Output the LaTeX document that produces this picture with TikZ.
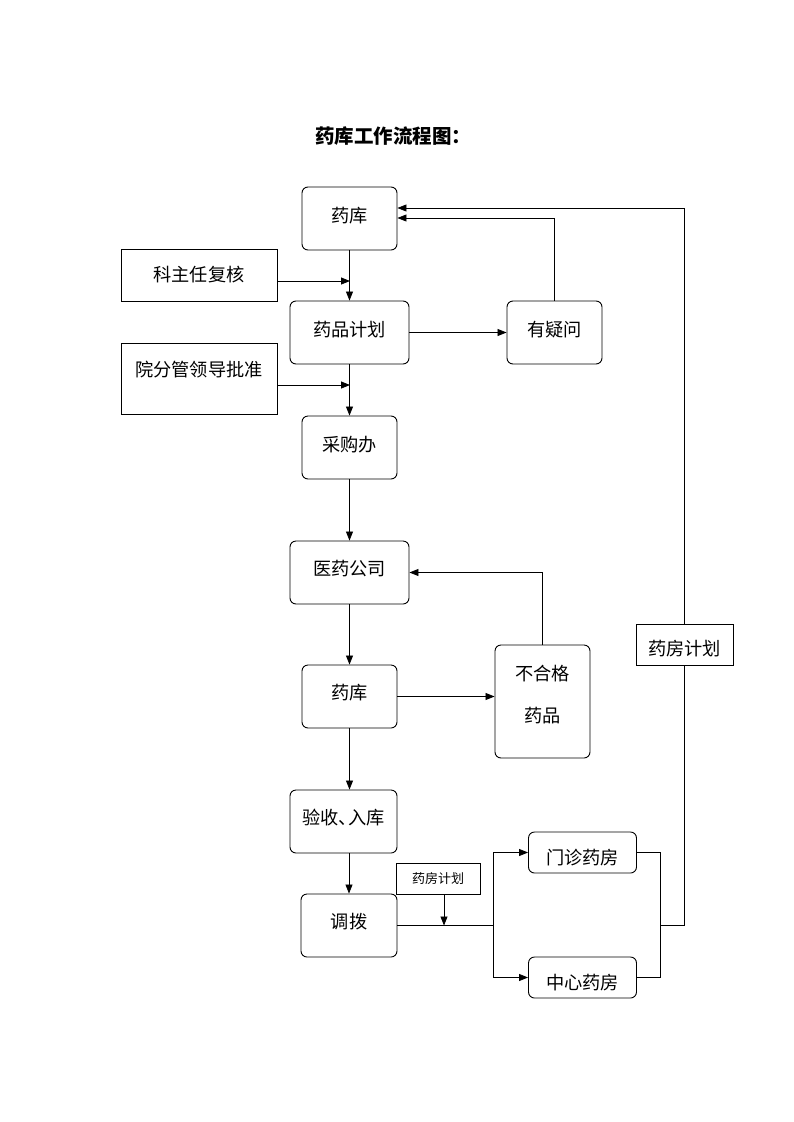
\documentclass[tikz,border=0pt]{standalone}
\usepackage{fontspec}
\newfontfamily\cjk{Noto Sans CJK SC}
\usetikzlibrary{arrows.meta}
\tikzset{
  rbox/.style={draw, line width=0.9pt, rounded corners=6pt, inner sep=0pt, font=\cjk\fontsize{18.2}{21}\selectfont},
  sbox/.style={draw, line width=0.9pt, inner sep=0pt, font=\cjk\fontsize{18.2}{21}\selectfont},
  txt/.style={inner sep=0pt, font=\cjk\fontsize{18.2}{21}\selectfont},
  conn/.style={line width=0.8pt},
  arr/.style={conn, -{Triangle[length=9pt,width=7pt]}}
}
\begin{document}
\begin{tikzpicture}[x=1pt,y=-1pt]
\useasboundingbox (0,0) rectangle (793,1122);
\node[inner sep=0pt, font=\cjk\bfseries\fontsize{19.5}{22}\selectfont] (title) at (393,136) {药库工作流程图：};

\node[rbox, minimum width=95pt, minimum height=63pt] (ku1) at (349.5,218.5) {};
\node[txt] (ku1t) at (349.5,216) {药库};
\node[sbox, minimum width=156pt, minimum height=52pt] (kzr) at (199,275) {科主任复核};
\node[rbox, minimum width=119pt, minimum height=63pt] (ypjh) at (349.5,332.5) {};
\node[txt] (ypjht) at (349.5,330) {药品计划};
\node[rbox, minimum width=95pt, minimum height=63pt] (yyw) at (554.5,332.5) {};
\node[txt] (yywt) at (554.5,330) {有疑问};
\node[sbox, minimum width=156pt, minimum height=71pt] (yfg) at (199,378.5) {};
\node[txt] (yfgt) at (199,369.5) {院分管领导批准};
\node[rbox, minimum width=95pt, minimum height=63pt] (cgb) at (349.5,447.5) {};
\node[txt] (cgbt) at (349.5,444.5) {采购办};
\node[rbox, minimum width=119pt, minimum height=63pt] (yygs) at (349.5,572.5) {};
\node[txt] (yygst) at (349.5,569) {医药公司};
\node[rbox, minimum width=95pt, minimum height=63pt] (ku2) at (349.5,696.5) {};
\node[txt] (ku2t) at (349.5,693) {药库};
\node[rbox, minimum width=95pt, minimum height=113pt] (bhg) at (542.5,701.5) {};
\node[txt] (bhg1) at (542.5,673.5) {不合格};
\node[txt] (bhg2) at (542.5,716) {药品};
\node[rbox, minimum width=107pt, minimum height=63pt] (ys) at (343.5,821.5) {};
\node[txt] (yst) at (343.5,818) {验收、\hspace{-0.45em}入库};
\node[rbox, minimum width=96pt, minimum height=63pt] (db) at (349,925.5) {};
\node[txt] (dbt) at (349,922) {调拨};
\node[sbox, minimum width=84pt, minimum height=31pt, font=\cjk\fontsize{13}{15}\selectfont] (yfs) at (438,879) {药房计划};
\node[rbox, minimum width=108pt, minimum height=41pt] (mz) at (582.5,852.5) {};
\node[txt] (mzt) at (582.5,857.5) {门诊药房};
\node[rbox, minimum width=108pt, minimum height=41pt] (zx) at (582.5,977.5) {};
\node[txt] (zxt) at (582.5,982.5) {中心药房};
\node[sbox, minimum width=97pt, minimum height=41pt] (yfr) at (684.5,644.5) {};
\node[txt] (yfrt) at (684.5,649) {药房计划};

\coordinate (j1) at (350,281);
\coordinate (j2) at (350,385);
\coordinate (sp) at (444,925.5);
\coordinate (bl) at (493,925.5);
\coordinate (br) at (660,925.5);

% main chain
\draw[arr] (ku1.south) -- (ypjh.north);
\draw[arr] (kzr.east |- j1) -- (j1);
\draw[arr] (ypjh.south) -- (cgb.north);
\draw[arr] (yfg.east |- j2) -- (j2);
\draw[arr] (cgb.south) -- (yygs.north);
\draw[arr] (yygs.south) -- (ku2.north);
\draw[arr] (ku2.south) -- (ys.north -| ku2.south);
\draw[arr] (ys.south -| db.north) -- (db.north);

% side loops
\draw[arr] (ypjh.east) -- (yyw.west);
\draw[arr] (yyw.north) -- (yyw.north |- 0,218) -- (ku1.east |- 0,218);
\draw[arr] (ku2.east) -- (bhg.west |- ku2.east);
\draw[arr] (bhg.north) -- (bhg.north |- yygs.east) -- (yygs.east);

% distribution
\draw[conn] (db.east) -- (bl);
\draw[arr] (yfs.south -| sp) -- (sp);
\draw[arr] (bl) -- (bl |- mz.west) -- (mz.west);
\draw[arr] (bl) -- (bl |- zx.west) -- (zx.west);
\draw[conn] (mz.east) -- (br |- mz.east) -- (br |- zx.east) -- (zx.east);
\draw[conn] (br) -- (yfr.south |- br) -- (yfr.south);
\draw[arr] (yfr.north) -- (yfr.north |- 0,208) -- (ku1.east |- 0,208);
\end{tikzpicture}
\end{document}
